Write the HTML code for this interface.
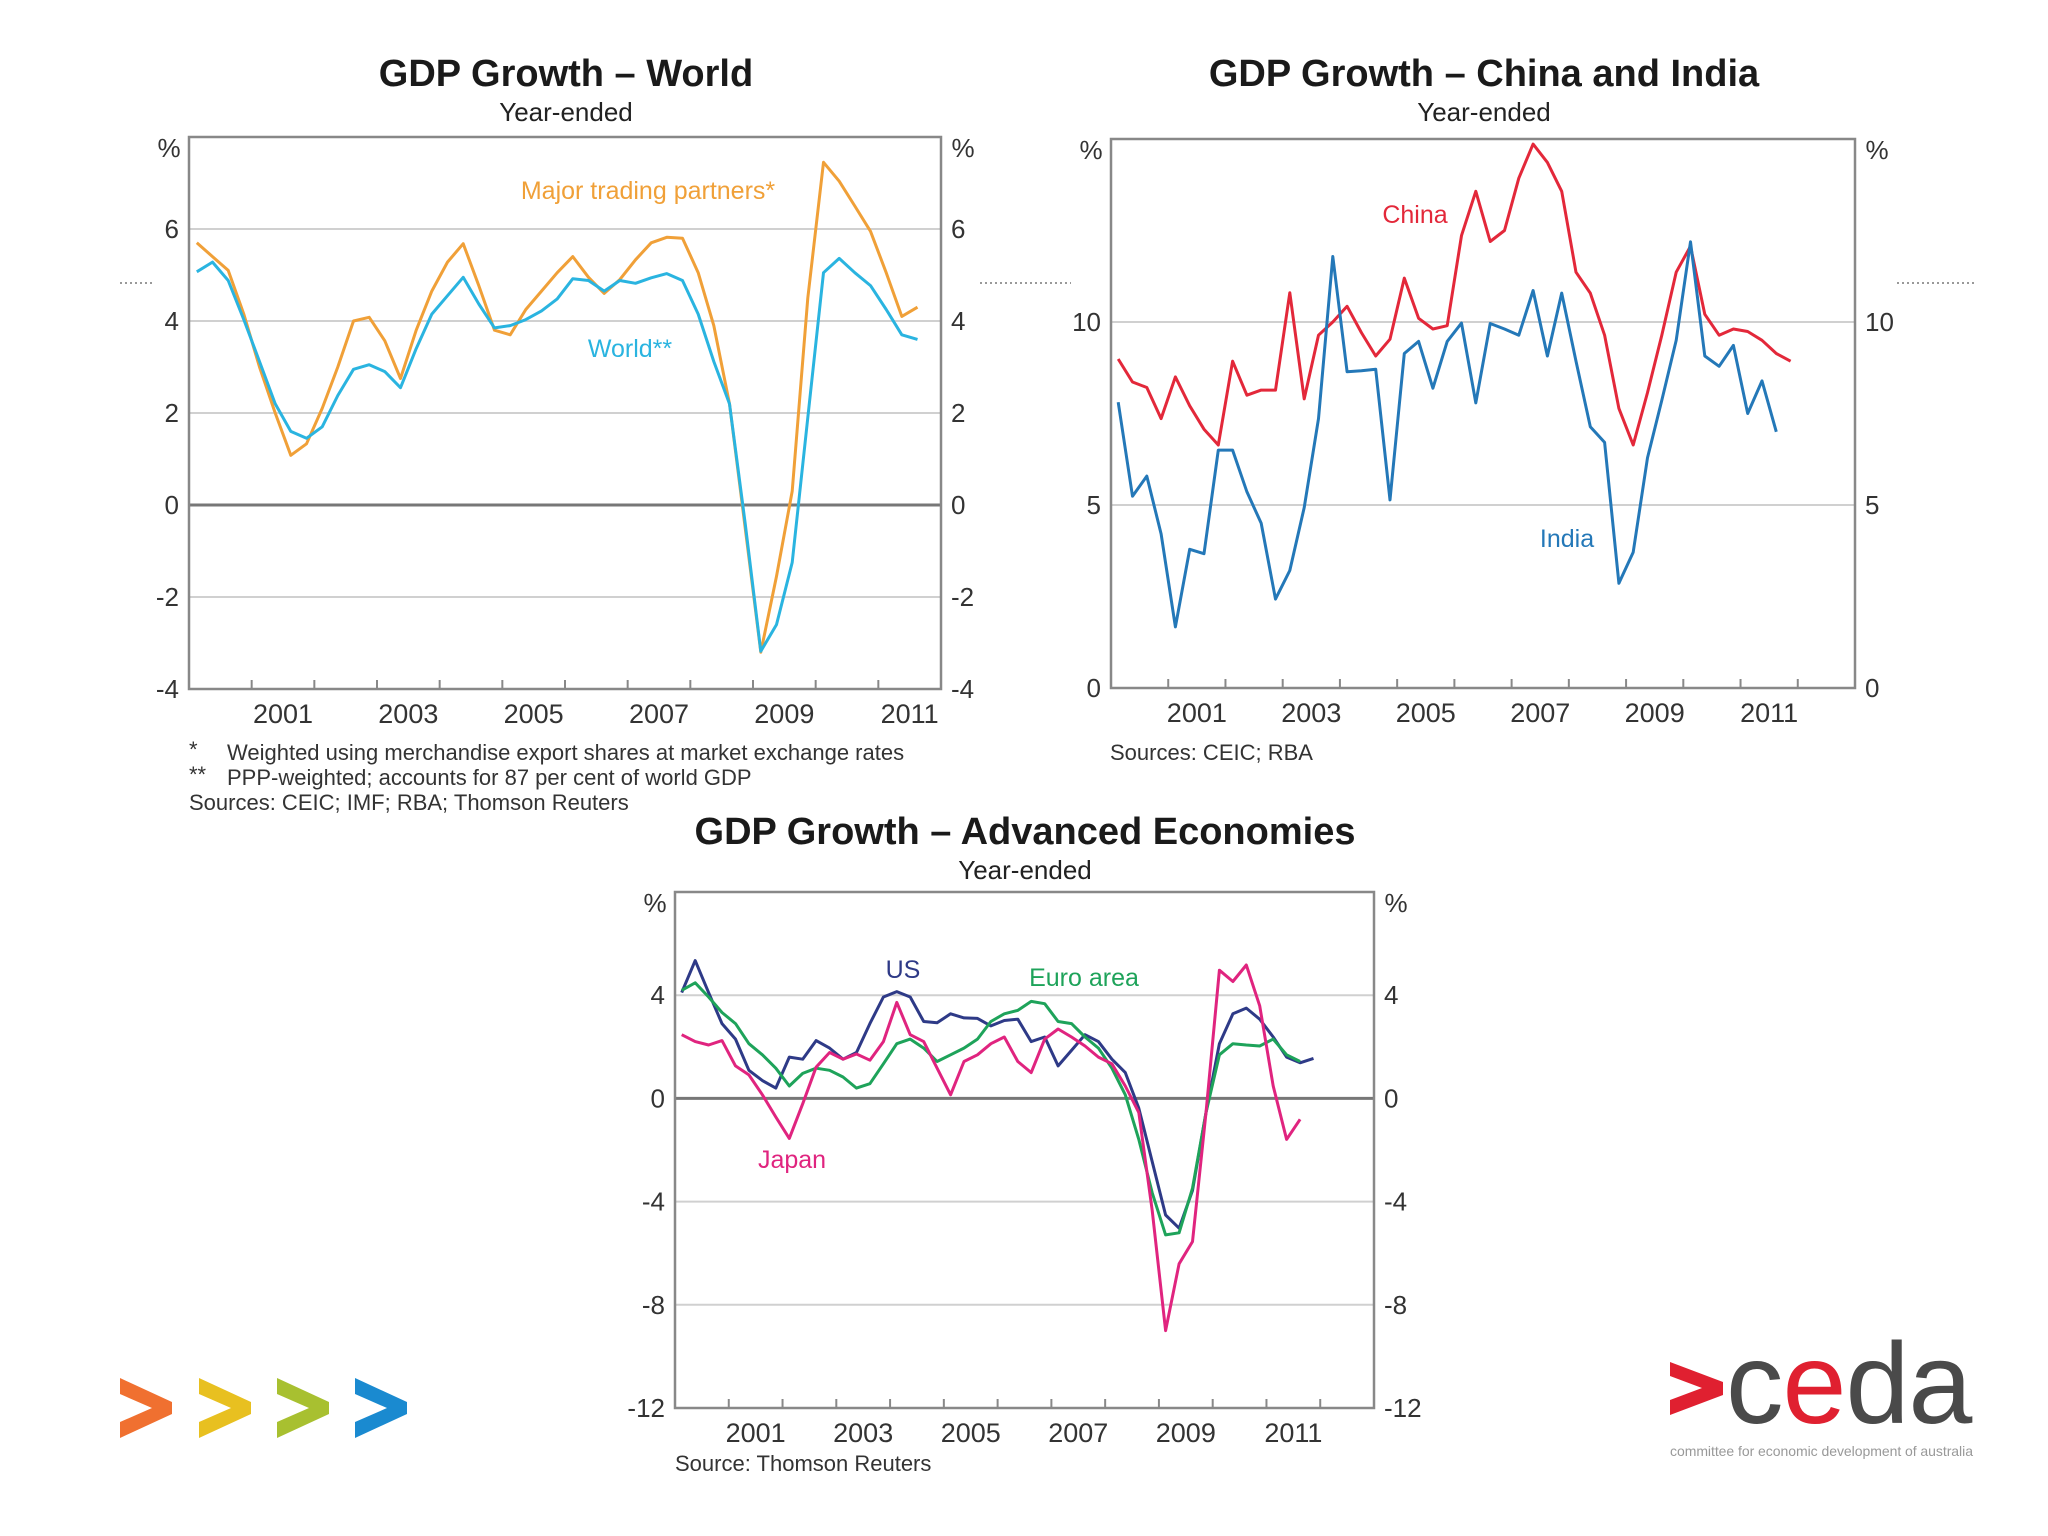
<!DOCTYPE html>
<html><head><meta charset="utf-8"><style>
body{margin:0;background:#fff;}
svg{display:block;font-family:"Liberation Sans",Arial,sans-serif;}
</style></head><body>
<svg id="root" width="2048" height="1536" viewBox="0 0 2048 1536" xmlns="http://www.w3.org/2000/svg">
<rect width="2048" height="1536" fill="#fff"/>
<g stroke="#999" stroke-width="2" stroke-dasharray="2,3">
<line x1="120" y1="283" x2="152" y2="283"/><line x1="980" y1="283" x2="1071" y2="283"/><line x1="1897" y1="283" x2="1975" y2="283"/>
</g>
<g id="c1"></g>
<g id="c2"></g>
<g id="c3"></g>
<g>
<polygon transform="translate(120,1378)" points="0,0 52,24 52,36 0,60 0,44 32,30 0,16" fill="#f07030"/>
<polygon transform="translate(199,1378)" points="0,0 52,24 52,36 0,60 0,44 32,30 0,16" fill="#e8c020"/>
<polygon transform="translate(277,1378)" points="0,0 52,24 52,36 0,60 0,44 32,30 0,16" fill="#a8c030"/>
<polygon transform="translate(355,1378)" points="0,0 52,24 52,36 0,60 0,44 32,30 0,16" fill="#1a8ad0"/>
</g>
<g>
<polygon points="1670,1362 1723,1382 1723,1395 1670,1415 1670,1400 1702,1388 1670,1376" fill="#e02030"/>
<text x="1726" y="1423" font-size="115" fill="#4a4a4a" letter-spacing="-1">c<tspan fill="#e02030">e</tspan>da</text>
<text x="1670" y="1456" font-size="14" fill="#999" textLength="303">committee for economic development of australia</text>
</g>
</svg>
<script>
// Chart 1: World
const c1MTP=[5.7,5.4,5.1,4.15,3.0,2.0,1.08,1.33,2.1,3.0,4.0,4.08,3.57,2.75,3.8,4.65,5.28,5.68,4.77,3.8,3.7,4.25,4.65,5.05,5.4,4.95,4.6,4.9,5.33,5.7,5.82,5.8,5.05,3.9,2.2,-0.5,-3.2,-1.55,0.3,4.5,7.45,7.04,6.5,5.95,5.05,4.1,4.3];
const c1World=[5.07,5.28,4.88,4.03,3.12,2.2,1.6,1.45,1.7,2.38,2.95,3.05,2.9,2.55,3.4,4.15,4.55,4.95,4.37,3.85,3.9,4.03,4.22,4.48,4.92,4.88,4.65,4.88,4.82,4.94,5.03,4.88,4.15,3.12,2.2,-0.4,-3.18,-2.6,-1.25,1.9,5.05,5.36,5.05,4.77,4.25,3.7,3.6];
const c1Ticks=[-4,-2,0,2,4,6];
const c1Years=[2001,2003,2005,2007,2009,2011];
// Chart 2: China & India
const c2China=[8.99,8.36,8.21,7.36,8.5,7.71,7.07,6.64,8.93,8.0,8.14,8.14,10.8,7.9,9.64,10.0,10.43,9.71,9.07,9.53,11.2,10.1,9.81,9.9,12.36,13.57,12.2,12.5,13.93,14.86,14.36,13.57,11.36,10.79,9.64,7.64,6.64,8.07,9.64,11.36,12.07,10.21,9.64,9.81,9.74,9.5,9.14,8.93];
const c2India=[7.81,5.24,5.79,4.21,1.67,3.79,3.67,6.5,6.5,5.36,4.5,2.43,3.21,4.93,7.36,11.79,8.64,8.67,8.71,5.14,9.14,9.47,8.19,9.47,9.97,7.79,9.96,9.81,9.64,10.86,9.07,10.79,8.93,7.14,6.71,2.86,3.71,6.29,7.86,9.5,12.19,9.07,8.79,9.36,7.5,8.39,7.0];
const c2Ticks=[0,5,10];
const c2Years=[2001,2003,2005,2007,2009,2011];
// Chart 3: Advanced economies
const c3US=[4.1,5.34,4.1,2.9,2.3,1.09,0.69,0.4,1.6,1.52,2.24,1.95,1.52,1.78,2.9,3.93,4.14,3.93,2.98,2.93,3.28,3.12,3.1,2.81,3.02,3.07,2.2,2.38,1.26,1.86,2.47,2.2,1.52,1.0,-0.38,-2.45,-4.52,-5.03,-3.57,-0.55,2.12,3.28,3.5,3.07,2.38,1.6,1.38,1.55];
const c3Euro=[4.19,4.48,3.93,3.33,2.9,2.12,1.69,1.17,0.48,0.97,1.17,1.09,0.83,0.4,0.57,1.34,2.12,2.3,1.95,1.43,1.69,1.95,2.3,2.98,3.28,3.41,3.76,3.67,2.98,2.9,2.38,1.95,1.17,0.14,-1.59,-3.66,-5.29,-5.21,-3.48,-0.55,1.69,2.12,2.07,2.03,2.3,1.69,1.43];
const c3Japan=[2.47,2.2,2.07,2.24,1.26,0.91,0.14,-0.72,-1.55,-0.21,1.21,1.78,1.52,1.72,1.48,2.2,3.72,2.47,2.2,1.17,0.14,1.43,1.69,2.12,2.38,1.43,1.0,2.3,2.69,2.38,2.03,1.6,1.34,0.48,-0.55,-4.34,-9.0,-6.41,-5.55,-0.55,4.97,4.53,5.17,3.59,0.48,-1.59,-0.81];
const c3Ticks=[-12,-8,-4,0,4];
const c3Years=[2001,2003,2005,2007,2009,2011];

const NS='http://www.w3.org/2000/svg';
function mk(parent,tag,attrs,text){const e=document.createElementNS(NS,tag);for(const k in attrs)e.setAttribute(k,attrs[k]);if(text!==undefined)e.textContent=text;parent.appendChild(e);return e;}

function chart(g,o){
  const xs=t=>o.L+(t-o.x0)/(o.x1-o.x0)*(o.R-o.L);
  const ys=v=>o.B-(v-o.y0)/(o.y1-o.y0)*(o.B-o.T);
  const t1=mk(g,'text',{x:o.cx,y:o.ty,'font-size':38,'font-weight':'bold','text-anchor':'middle',fill:'#1a1a1a'},o.title);
  
  
  const t2=mk(g,'text',{x:o.cx,y:o.ty+35,'font-size':26,'text-anchor':'middle',fill:'#222'},'Year-ended');
  
  
  o.ticks.forEach(v=>{
    const y=ys(v);
    const gl=mk(g,'line',{x1:o.L,x2:o.R,y1:y,y2:y,stroke:v===0&&o.zero?'#777':'#d0d0d0','stroke-width':v===0&&o.zero?3:2});
    
    
    const a=mk(g,'text',{x:o.L-10,y:y+9,'font-size':26,'text-anchor':'end',fill:'#333'},String(v));
    
    
    const b=mk(g,'text',{x:o.R+10,y:y+9,'font-size':26,'text-anchor':'start',fill:'#333'},String(v));
    
    
  });
  const p1=mk(g,'text',{x:o.L-20,y:o.T+20,'font-size':26,'text-anchor':'middle',fill:'#333'},'%');
  
  
  const p2=mk(g,'text',{x:o.R+22,y:o.T+20,'font-size':26,'text-anchor':'middle',fill:'#333'},'%');
  
  
  const fr=mk(g,'rect',{x:o.L,y:o.T,width:o.R-o.L,height:o.B-o.T,fill:'none',stroke:'#888','stroke-width':2.5});
  
  
  for(let yr=o.x0+1;yr<o.x1;yr++){
    const tk=mk(g,'line',{x1:xs(yr),x2:xs(yr),y1:o.B,y2:o.B-9,stroke:'#888','stroke-width':2});
    
    
  }
  o.years.forEach(yr=>{
    const t=mk(g,'text',{x:xs(yr+0.5),y:o.B+34,'font-size':27,'text-anchor':'middle',fill:'#333'},String(yr));
    
    
  });
  o.series.forEach(s=>{
    const pts=s.data.map((v,i)=>xs(o.x0+(i+0.5)/4).toFixed(1)+','+ys(v).toFixed(1)).join(' ');
    const pl=mk(g,'polyline',{points:pts,fill:'none',stroke:s.color,'stroke-width':3,'stroke-linejoin':'round'});
    
    
    const lb=mk(g,'text',{x:s.lx,y:s.ly,'font-size':25,'text-anchor':'middle',fill:s.color},s.label);
    
    
  });
  (o.notes||[]).forEach(n=>{
    const t=mk(g,'text',{x:n[0],y:n[1],'font-size':22,fill:'#333'},n[2]);
    
    
  });
}
chart(document.getElementById('c1'),{L:189,R:941,T:137,B:689,x0:2000,x1:2012,y0:-4,y1:8,zero:true,cx:566,ty:86,title:'GDP Growth – World',ticks:c1Ticks,years:c1Years,
 series:[{name:'major-trading-partners',data:c1MTP,color:'#f0a038',label:'Major trading partners*',lx:648,ly:199},
         {name:'world',data:c1World,color:'#2ab4e0',label:'World**',lx:630,ly:357}],
 notes:[[189,757,'*'],[227,760,'Weighted using merchandise export shares at market exchange rates'],[189,782,'**'],[227,785,'PPP-weighted; accounts for 87 per cent of world GDP'],[189,810,'Sources: CEIC; IMF; RBA; Thomson Reuters']]});
chart(document.getElementById('c2'),{L:1111,R:1855,T:139,B:688,x0:2000,x1:2013,y0:0,y1:15,zero:false,cx:1484,ty:86,title:'GDP Growth – China and India',ticks:c2Ticks,years:c2Years,
 series:[{name:'china',data:c2China,color:'#e3283a',label:'China',lx:1415,ly:223},
         {name:'india',data:c2India,color:'#2478b8',label:'India',lx:1567,ly:547}],
 notes:[[1110,760,'Sources: CEIC; RBA']]});
chart(document.getElementById('c3'),{L:675,R:1374,T:892,B:1408,x0:2000,x1:2013,y0:-12,y1:8,zero:true,cx:1025,ty:844,title:'GDP Growth – Advanced Economies',ticks:c3Ticks,years:c3Years,
 series:[{name:'us',data:c3US,color:'#2e3a87',label:'US',lx:903,ly:978},
         {name:'euro-area',data:c3Euro,color:'#1ea35a',label:'Euro area',lx:1084,ly:986},
         {name:'japan',data:c3Japan,color:'#e0247f',label:'Japan',lx:792,ly:1168}],
 notes:[[675,1471,'Source: Thomson Reuters']]});
</script>
</body></html>
